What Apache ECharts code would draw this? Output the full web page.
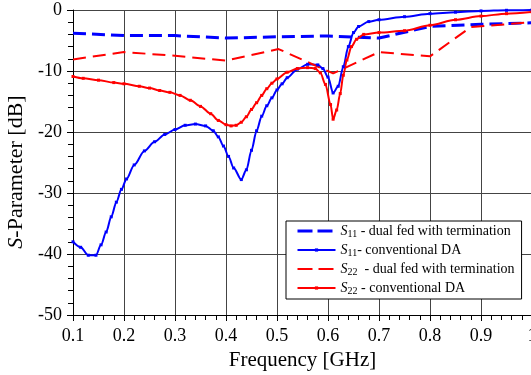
<!DOCTYPE html>
<html>
<head>
<meta charset="utf-8">
<script src="https://cdn.jsdelivr.net/npm/echarts@6/dist/echarts.min.js"></script>
<style>
  html, body { margin: 0; padding: 0; background: #fff; }
  #chart { width: 531px; height: 375px; }
</style>
</head>
<body>
<div id="chart"></div>
<script>
// S11 - dual fed with termination (dashed blue)
var s11Dual = [
    [0.1, -3.8], [0.2, -4.2], [0.3, -4.2], [0.4, -4.6], [0.5, -4.4],
    [0.6, -4.25], [0.7, -4.6], [0.8, -2.7], [0.9, -2.35], [1.0, -2.1]
];
// S11 - conventional DA (solid blue)
var s11Conv = [
    [0.10, -38.0], [0.115, -38.9], [0.13, -40.2], [0.145, -40.2], [0.155, -38.5],
    [0.165, -36.4], [0.175, -33.9], [0.185, -31.5], [0.195, -29.4], [0.205, -27.7],
    [0.22, -25.4], [0.24, -23.1], [0.26, -21.6], [0.28, -20.4], [0.30, -19.6],
    [0.32, -18.9], [0.34, -18.7], [0.36, -19.0], [0.375, -19.8], [0.385, -20.8],
    [0.395, -22.3], [0.405, -24.0], [0.415, -25.9], [0.43, -27.8], [0.44, -26.2],
    [0.45, -23.0], [0.46, -19.8], [0.47, -17.4], [0.48, -15.7], [0.49, -14.4],
    [0.50, -13.1], [0.51, -12.1], [0.52, -11.1], [0.54, -9.7], [0.56, -8.9],
    [0.58, -9.0], [0.59, -9.6], [0.60, -11.0], [0.61, -13.6], [0.62, -12.5],
    [0.63, -9.3], [0.64, -6.0], [0.65, -3.7], [0.66, -2.7], [0.68, -1.9],
    [0.70, -1.6], [0.75, -1.1], [0.80, -0.6], [0.85, -0.35], [0.90, -0.15],
    [0.95, -0.05], [1.0, 0]
];
// S22 - dual fed with termination (dashed red)
var s22Dual = [
    [0.1, -8.1], [0.2, -6.9], [0.3, -7.5], [0.4, -8.3], [0.503, -6.4],
    [0.61, -10.4], [0.7, -6.9], [0.8, -7.6], [0.88, -2.8], [1.0, -2.0]
];
// S22 - conventional DA (solid red)
var s22Conv = [
    [0.10, -10.9], [0.12, -11.2], [0.15, -11.5], [0.18, -11.9], [0.20, -12.1],
    [0.23, -12.5], [0.25, -12.8], [0.27, -13.2], [0.29, -13.5], [0.31, -14.0],
    [0.33, -14.8], [0.35, -15.8], [0.37, -17.0], [0.385, -18.1], [0.40, -18.8],
    [0.41, -19.0], [0.42, -18.9], [0.43, -18.4], [0.44, -17.5], [0.45, -16.3],
    [0.46, -15.2], [0.47, -14.0], [0.48, -12.9], [0.49, -12.0], [0.50, -11.3],
    [0.52, -10.2], [0.54, -9.6], [0.56, -9.45], [0.575, -9.6], [0.585, -10.3],
    [0.595, -12.2], [0.605, -15.5], [0.61, -17.9], [0.617, -16.4], [0.624, -13.7],
    [0.63, -10.7], [0.637, -8.2], [0.646, -6.0], [0.656, -4.8], [0.67, -4.0],
    [0.70, -3.7], [0.75, -3.4], [0.80, -2.5], [0.85, -1.6], [0.90, -1.0],
    [0.95, -0.6], [1.0, -0.3]
];

var legendLabels = {
    'S11 dual': '{i|S}{sub|11}{t| - dual fed with termination}',
    'S11 conv': '{i|S}{sub|11}{t|- conventional DA}',
    'S22 dual': '{i|S}{sub|22}{t|  - dual fed with termination}',
    'S22 conv': '{i|S}{sub|22}{t| - conventional DA}'
};

var serif = '"Liberation Serif", "Times New Roman", serif';
var chart = echarts.init(document.getElementById('chart'));

chart.setOption({
    backgroundColor: '#fff',
    animation: false,
    grid: { left: 73, top: 10, width: 459, height: 305, containLabel: false, outerBoundsMode: 'none' },
    legend: {
        orient: 'vertical',
        left: 286,
        top: 221,
        padding: [3, 7, 3, 10],
        itemGap: 4,
        itemWidth: 38,
        itemHeight: 4,
        backgroundColor: '#fff',
        borderColor: '#000',
        borderWidth: 1,
        borderRadius: 0,
        data: [
            { name: 'S11 dual', itemStyle: { opacity: 0 }, lineStyle: { type: [15, 5], width: 3 } },
            { name: 'S11 conv' },
            { name: 'S22 dual', itemStyle: { opacity: 0 }, lineStyle: { type: [15, 6], width: 2 } },
            { name: 'S22 conv' }
        ],
        formatter: function(name) {
            return legendLabels[name];
        },
        textStyle: {
            color: '#000',
            fontFamily: serif,
            fontSize: 14,
            rich: {
                i: { fontFamily: serif, fontSize: 14, fontStyle: 'italic', lineHeight: 16, color: '#000' },
                sub: { fontFamily: serif, fontSize: 10, lineHeight: 8, verticalAlign: 'bottom', color: '#000' },
                t: { fontFamily: serif, fontSize: 14, lineHeight: 16, color: '#000' }
            }
        }
    },
    xAxis: {
        type: 'value',
        min: 0.1,
        max: 1.0,
        interval: 0.1,
        name: 'Frequency [GHz]',
        nameLocation: 'middle',
        nameGap: 29,
        nameTextStyle: { fontFamily: serif, fontSize: 21, color: '#000' },
        axisLine: { show: true, onZero: false, lineStyle: { color: '#000', width: 1 } },
        axisTick: { show: true, inside: false, length: 6, lineStyle: { color: '#000' } },
        minorTick: { show: true, splitNumber: 5, length: 5, lineStyle: { color: '#000' } },
        axisLabel: { margin: 12, fontFamily: serif, fontSize: 18, color: '#000' },
        splitLine: { show: true, lineStyle: { color: '#444', width: 1 } }
    },
    yAxis: {
        type: 'value',
        min: -50,
        max: 0,
        interval: 10,
        axisLine: { show: true, onZero: false, lineStyle: { color: '#000', width: 1 } },
        axisTick: { show: true, inside: false, length: 6, lineStyle: { color: '#000' } },
        minorTick: { show: true, splitNumber: 5, length: 5, lineStyle: { color: '#000' } },
        axisLabel: { margin: 11, fontFamily: serif, fontSize: 18, color: '#000' },
        splitLine: { show: true, lineStyle: { color: '#444', width: 1 } }
    },
    graphic: [{
        type: 'text',
        x: 16,
        y: 172,
        rotation: Math.PI / 2,
        style: {
            text: '{i|S}-Parameter [dB]',
            fill: '#000',
            font: '22px ' + serif,
            align: 'center',
            verticalAlign: 'middle',
            rich: {
                i: { fontFamily: serif, fontSize: 22, fontStyle: 'italic', fill: '#000' }
            }
        }
    }],
    series: [{
        name: 'S11 dual',
        type: 'line',
        data: s11Dual,
        symbol: 'none',
        color: '#0000ff',
        lineStyle: { color: '#0000ff', width: 3, type: [13, 6] }
    }, {
        name: 'S11 conv',
        type: 'line',
        data: s11Conv,
        smooth: 0.3,
        smoothMonotone: 'x',
        symbol: 'rect',
        symbolSize: 3,
        color: '#0000ff',
        itemStyle: { color: '#0000ff' },
        lineStyle: { color: '#0000ff', width: 2 }
    }, {
        name: 'S22 dual',
        type: 'line',
        data: s22Dual,
        symbol: 'none',
        color: '#ff0000',
        lineStyle: { color: '#ff0000', width: 2, type: [13, 7] }
    }, {
        name: 'S22 conv',
        type: 'line',
        data: s22Conv,
        smooth: 0.3,
        smoothMonotone: 'x',
        symbol: 'rect',
        symbolSize: 3,
        color: '#ff0000',
        itemStyle: { color: '#ff0000' },
        lineStyle: { color: '#ff0000', width: 2 }
    }]
});
</script>
</body>
</html>
